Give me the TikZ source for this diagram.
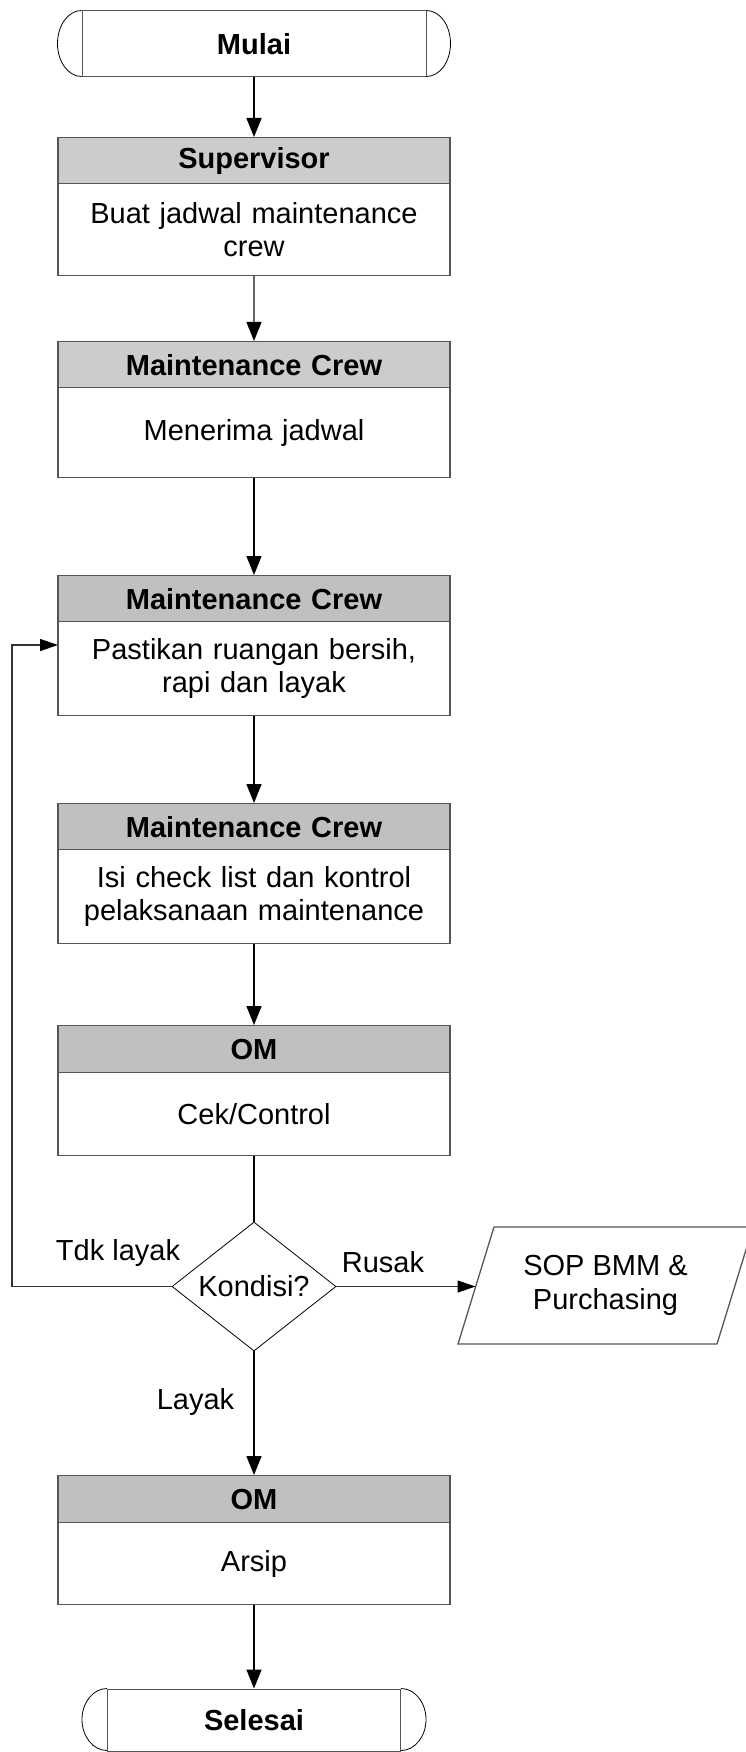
\documentclass[tikz,border=0pt]{standalone}
\usepackage{fontspec}
\setmainfont{Liberation Sans}
\usetikzlibrary{arrows.meta,shapes.geometric,calc}
\definecolor{boxgray}{HTML}{555555}
\definecolor{divgray}{HTML}{333333}
\definecolor{hdrA}{HTML}{CCCCCC}
\definecolor{hdrB}{HTML}{C0C0C0}
\definecolor{lgray}{HTML}{666666}
\begin{document}
\begin{tikzpicture}[x=1pt,y=-1pt,
  font=\fontsize{29}{33.5}\selectfont,
  box/.style={draw=boxgray,line width=1.3pt,minimum width=392pt,inner sep=0pt,anchor=north,align=center,text width=380pt},
  hdr/.style={box,fill=#1,font=\fontsize{29}{33.5}\selectfont\bfseries},
  hdr/.default=hdrB,
  body/.style={box,fill=white},
  term/.style={draw=boxgray,line width=1pt,inner sep=0pt,font=\fontsize{29}{33.5}\selectfont\bfseries},
  tline/.style={draw=black,line width=0.8pt},
  conn/.style={draw=black,line width=1.4pt},
  arr/.style={conn,-{Triangle[length=19pt,width=15pt]}},
  garr/.style={draw=lgray,line width=1.4pt,-{Triangle[length=19pt,width=15pt,color=black]}},
  harr/.style={draw=divgray,line width=1.3pt,-{Triangle[length=18pt,width=12pt,color=black]}},
  lbl/.style={inner sep=0pt}
]
\useasboundingbox (0,0) rectangle (746,1752);

% Start terminator
\node[term,minimum width=344pt,minimum height=66pt] (mulai) at (254,44) {Mulai};
\draw[tline] (mulai.north west) arc[start angle=90,end angle=270,x radius=24pt,y radius=33pt];
\draw[tline] (mulai.north east) arc[start angle=90,end angle=-90,x radius=24pt,y radius=33pt];

% Supervisor
\node[hdr=hdrA,minimum height=46pt] (supH) at (254,137) {Supervisor};
\node[body,minimum height=92pt] (supB) at (254,183) {Buat jadwal maintenance\\crew};

% Maintenance Crew 1
\node[hdr=hdrA,minimum height=46pt] (mc1H) at (254,341) {Maintenance Crew};
\node[body,minimum height=90pt] (mc1B) at (254,387) {Menerima jadwal};

% Maintenance Crew 2
\node[hdr,minimum height=46pt] (mc2H) at (254,575) {Maintenance Crew};
\node[body,minimum height=94pt] (mc2B) at (254,621) {Pastikan ruangan bersih,\\rapi dan layak};

% Maintenance Crew 3
\node[hdr,minimum height=46pt] (mc3H) at (254,803) {Maintenance Crew};
\node[body,minimum height=94pt] (mc3B) at (254,849) {Isi check list dan kontrol\\pelaksanaan maintenance};

% OM 1
\node[hdr,minimum height=47pt] (om1H) at (254,1025) {OM};
\node[body,minimum height=83pt] (om1B) at (254,1072) {Cek/Control};

% Decision
\node[diamond,draw=black,line width=0.8pt,inner sep=0pt,aspect=1.27,minimum width=164pt,minimum height=129pt] (kond) at (254,1286.5) {Kondisi?};

% SOP parallelogram
\node[lbl,align=center] (sop) at (605.5,1285.5) {SOP BMM \&\\Purchasing};
\draw[draw=boxgray,line width=1.3pt] (458,1344) -- (494,1227) -- (753,1227) -- (717,1344) -- cycle;
\coordinate (sopin) at (475.5,1286.5);

% OM 2
\node[hdr,minimum height=47pt] (om2H) at (254,1475) {OM};
\node[body,minimum height=82pt] (om2B) at (254,1522) {Arsip};

% End terminator
\node[term,minimum width=293pt,minimum height=62pt] (selesai) at (254,1720) {Selesai};
\draw[tline] (selesai.north west) arc[start angle=90,end angle=270,x radius=25pt,y radius=31pt];
\draw[tline] (selesai.north east) arc[start angle=90,end angle=-90,x radius=25pt,y radius=31pt];

% Labels
\node[lbl] (tdk) at (118,1253) {Tdk layak};
\node[lbl] (rusak) at (383,1262) {Rusak};
\node[lbl] (layak) at (195.5,1401.5) {Layak};

% Feedback coordinates
\coordinate (fbc) at (12,645);
\coordinate (fb) at (58,645);

% Connectors
\draw[arr] (mulai.south) -- (supH.north);
\draw[garr] (supB.south) -- (mc1H.north);
\draw[arr] (mc1B.south) -- (mc2H.north);
\draw[arr] (mc2B.south) -- (mc3H.north);
\draw[arr] (mc3B.south) -- (om1H.north);
\draw[conn] (om1B.south) -- (kond.north);
\draw[arr] (kond.south) -- (om2H.north);
\draw[arr] (om2B.south) -- (selesai.north);
\draw[harr] (kond.west) -| (fbc) -- (fb);
\draw[harr] (kond.east) -- (sopin);
\end{tikzpicture}
\end{document}
